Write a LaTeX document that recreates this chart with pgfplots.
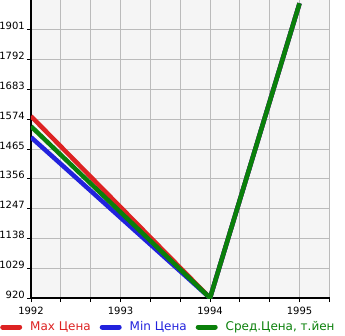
\documentclass[border=0pt]{standalone}
\usepackage{fontspec}
\setmainfont{DejaVu Sans}
\usepackage{pgfplots}
\pgfplotsset{compat=1.18}
\definecolor{cred}{HTML}{DD2222}
\definecolor{cblue}{HTML}{2222DD}
\definecolor{cgreen}{HTML}{0A800A}
\definecolor{bgc}{HTML}{F5F5F5}
\definecolor{gridc}{HTML}{BBBBBB}
\begin{document}
\begin{tikzpicture}[x=1pt,y=1pt]
\useasboundingbox (0,0) rectangle (345,335);
\begin{axis}[
  at={(31pt,37pt)}, anchor=south west,
  scale only axis, width=299pt, height=298pt,
  xmin=1992, xmax=1995.34, ymin=920, ymax=2010,
  axis background/.style={fill=bgc},
  axis x line*=bottom, axis y line*=left,
  axis line style={black, line width=1.6pt, -},
  xtick={1992,1993,1994,1995},
  minor xtick={1992.3333,1992.6667,1993.3333,1993.6667,1994.3333,1994.6667,1995.3333},
  ytick={920,1029,1138,1247,1356,1465,1574,1683,1792,1901},
  xticklabels={1992,1993,1994,1995},
  yticklabels={920,1029,1138,1247,1356,1465,1574,1683,1792,1901},
  grid=both,
  major grid style={gridc, line width=0.8pt},
  minor grid style={gridc, line width=0.8pt},
  tick align=outside,
  major tick length=4pt, minor tick length=4pt,
  tick style={black, line width=0.8pt},
  ticklabel style={font=\fontsize{10}{12}\selectfont, text=black},
  yticklabel style={anchor=base east, inner sep=0pt, xshift=-2pt},
  xticklabel style={anchor=north, inner sep=0pt, yshift=-5pt},
  legend columns=3,
  legend style={at={(-0.1037,-0.0973)}, anchor=west, draw=none, fill=none,
    inner sep=0pt, font=\fontsize{12}{14}\selectfont,
    nodes={inner sep=0pt},
    /tikz/every odd column/.append style={column sep=8pt},
    /tikz/every even column/.append style={column sep=9pt}},
  legend image code/.code={\draw[#1, line width=5pt, line cap=round] (2.5pt,0pt) -- (19.5pt,0pt);},
  line join=round,
]
\addplot[cred, line width=4.5pt] coordinates {(1992,1585) (1994,920) (1995,1998)};
\addlegendentry{\textcolor{cred}{Max Цена}}
\addplot[cblue, line width=4.5pt] coordinates {(1992,1508) (1994,920) (1995,1998)};
\addlegendentry{\textcolor{cblue}{Min Цена}}
\addplot[cgreen, line width=4.5pt] coordinates {(1992,1548) (1994,920) (1995,1998)};
\addlegendentry{\textcolor{cgreen}{Сред.Цена, т.йен}}
\end{axis}
\end{tikzpicture}
\end{document}
